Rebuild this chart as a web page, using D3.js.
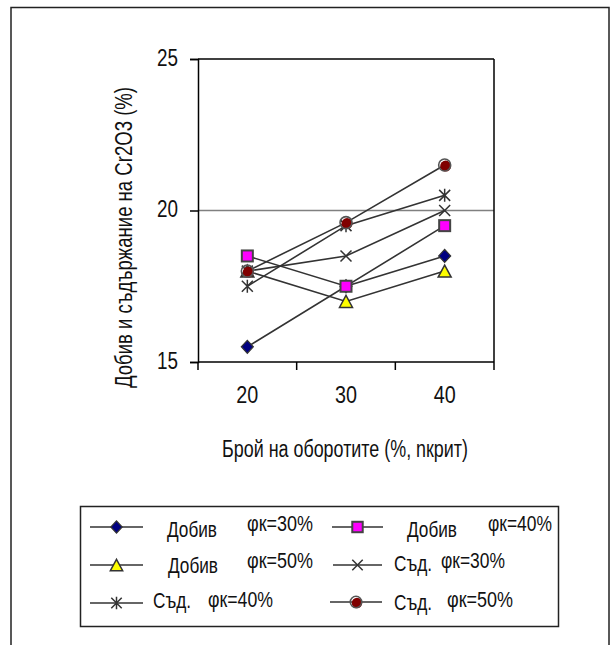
<!DOCTYPE html>
<html><head><meta charset="utf-8">
<script src="https://cdn.jsdelivr.net/npm/d3@7/dist/d3.min.js"></script>
<style>
body{margin:0;background:#fff}
text{font-family:"Liberation Sans",Arial,sans-serif;font-weight:400;fill:#111}
</style></head>
<body><svg id="c" width="613" height="645"></svg>
<script>
// ---------- data ----------
const categories = ["20", "30", "40"];
const yTickValues = [15, 20, 25];
const dobiv30 = [15.5, 17.5, 18.5];
const dobiv40 = [18.5, 17.5, 19.5];
const dobiv50 = [18.0, 17.0, 18.0];
const sad30   = [18.0, 18.5, 20.0];
const sad40   = [17.5, 19.5, 20.5];
const sad50   = [18.0, 19.6, 21.5];
const seriesNames = ["Добив", "Добив", "Добив", "Съд.", "Съд.", "Съд."];
const seriesPhi   = ["φк=30%", "φк=40%", "φк=50%", "φк=30%", "φк=40%", "φк=50%"];
const xTitle = "Брой на оборотите (%, nкрит)";
const yTitle = "Добив и съдържание на Cr2O3 (%)";

// ---------- styles / layout ----------
const seriesValues = [dobiv30, dobiv40, dobiv50, sad30, sad40, sad50];
const markerTypes = ["diamond", "square", "triangle", "x", "star", "circle"];
// legend slot per series: [lineX0, lineX1, lineY, nameX, nameBase, nameW, phiX, phiBase, phiW]
const legendSlots = [
  [90, 143, 527, 167, 537, 50, 247, 531, 66],
  [332, 383, 527, 407, 537, 50, 488, 531, 64],
  [90, 143, 565, 168, 573, 50, 247, 568, 66],
  [333, 382, 565, 394, 571, 38, 441, 568, 64],
  [90, 143, 603, 153, 608, 38, 208, 607, 65],
  [330, 382, 602, 394, 610, 38, 447, 607, 66]
];

const svg = d3.select("#c");
svg.append("rect").attr("width", 613).attr("height", 645).attr("fill", "#fff");
svg.append("rect").attr("x", 11).attr("y", 7.5).attr("width", 598).attr("height", 700)
  .attr("fill", "none").attr("stroke", "#222").attr("stroke-width", 1.5);

const P = {l: 198, r: 494, t: 59, b: 362};
const x = d3.scaleBand().domain(categories).range([P.l, P.r]).padding(0);
const y = d3.scaleLinear().domain([15, 25]).range([P.b, P.t]);
const cx = c => x(c) + x.bandwidth() / 2;

// gridline at 20
svg.append("g").selectAll("line").data(yTickValues.filter(v => v !== 15 && v !== 25)).join("line")
  .attr("x1", P.l).attr("x2", P.r).attr("y1", d => y(d)).attr("y2", d => y(d))
  .attr("stroke", "#808080").attr("stroke-width", 1.5);

svg.append("line").attr("x1", P.l).attr("x2", P.r).attr("y1", y(25)).attr("y2", y(25))
  .attr("stroke", "#000").attr("stroke-width", 1.5);
svg.append("line").attr("x1", P.r).attr("x2", P.r).attr("y1", P.t).attr("y2", P.b)
  .attr("stroke", "#000").attr("stroke-width", 1.5);

const gy = svg.append("g").attr("transform", `translate(${P.l},0)`)
  .call(d3.axisLeft(y).tickValues(yTickValues).tickSize(8).tickPadding(12).tickFormat(d3.format("d")));
gy.select(".domain").attr("stroke", "#000").attr("stroke-width", 1.5);
gy.selectAll(".tick line").attr("stroke", "#000").attr("stroke-width", 1.5);
gy.selectAll(".tick text").attr("font-size", 23).attr("dy", "0.28em")
  .attr("textLength", 21).attr("lengthAdjust", "spacingAndGlyphs")
  .attr("font-family", "Liberation Sans, Arial, sans-serif").attr("fill", "#111");

const gx = svg.append("g").attr("transform", `translate(0,${P.b})`)
  .call(d3.axisBottom(x).tickSize(0).tickPadding(29));
gx.select(".domain").remove();
gx.selectAll(".tick text").attr("font-size", 23).attr("dy", "0.5em")
  .attr("textLength", 22).attr("lengthAdjust", "spacingAndGlyphs")
  .attr("font-family", "Liberation Sans, Arial, sans-serif").attr("fill", "#111");
svg.append("line").attr("x1", P.l).attr("x2", P.r).attr("y1", P.b).attr("y2", P.b)
  .attr("stroke", "#000").attr("stroke-width", 1.5);
const edges = categories.map(c => x(c)).concat([x(categories[categories.length - 1]) + x.bandwidth()]);
svg.append("g").selectAll("line").data(edges).join("line")
  .attr("x1", d => d).attr("x2", d => d).attr("y1", P.b).attr("y2", P.b + 8)
  .attr("stroke", "#000").attr("stroke-width", 1.5);

svg.append("text").attr("x", 345).attr("y", 457).attr("text-anchor", "middle")
  .attr("font-size", 23).attr("textLength", 246).attr("lengthAdjust", "spacingAndGlyphs").text(xTitle);
svg.append("text").attr("transform", "translate(132,237.5) rotate(-90)").attr("text-anchor", "middle")
  .attr("font-size", 23).attr("textLength", 301).attr("lengthAdjust", "spacingAndGlyphs").text(yTitle);

function marker(g, type, px, py, s) {
  s = s || 1;
  const st = "#333";
  if (type === "diamond") {
    g.append("path").attr("d", `M${px},${py - 6.5 * s}L${px + 6 * s},${py}L${px},${py + 6.5 * s}L${px - 6 * s},${py}Z`)
      .attr("fill", "#000080").attr("stroke", st).attr("stroke-width", 1.2);
  } else if (type === "square") {
    g.append("rect").attr("x", px - 5.5 * s).attr("y", py - 5.5 * s).attr("width", 11 * s).attr("height", 11 * s)
      .attr("fill", "#ff00ff").attr("stroke", "#444").attr("stroke-width", 2);
  } else if (type === "triangle") {
    g.append("path").attr("d", `M${px},${py - 6 * s}L${px + 6.5 * s},${py + 6 * s}L${px - 6.5 * s},${py + 6 * s}Z`)
      .attr("fill", "#ffff00").attr("stroke", st).attr("stroke-width", 1.5);
  } else if (type === "x") {
    const a = 5.5 * s;
    g.append("path").attr("d", `M${px - a},${py - a}L${px + a},${py + a}M${px - a},${py + a}L${px + a},${py - a}`)
      .attr("stroke", st).attr("stroke-width", 1.5).attr("fill", "none");
  } else if (type === "star") {
    const a = 5.5 * s;
    g.append("path").attr("d", `M${px - a},${py - a}L${px + a},${py + a}M${px - a},${py + a}L${px + a},${py - a}M${px},${py - 6.5 * s}L${px},${py + 6.5 * s}`)
      .attr("stroke", st).attr("stroke-width", 1.5).attr("fill", "none");
  } else if (type === "circle") {
    g.append("circle").attr("cx", px + 1).attr("cy", py + 1).attr("r", 5.5 * s).attr("fill", "#800000");
    g.append("circle").attr("cx", px).attr("cy", py).attr("r", 6 * s).attr("fill", "none")
      .attr("stroke", "#555").attr("stroke-width", 1.6);
  }
}

const line = d3.line().x((d, i) => cx(categories[i])).y(d => y(d));
const plotG = svg.append("g");
seriesValues.forEach(vals => {
  plotG.append("path").attr("d", line(vals)).attr("fill", "none")
    .attr("stroke", "#333").attr("stroke-width", 1.6);
});
seriesValues.forEach((vals, si) => {
  vals.forEach((v, i) => marker(plotG, markerTypes[si], cx(categories[i]), y(v)));
});

svg.append("rect").attr("x", 80.5).attr("y", 506.5).attr("width", 478).attr("height", 120)
  .attr("fill", "#fff").attr("stroke", "#222").attr("stroke-width", 1.5);
const lg = svg.append("g");
seriesNames.forEach((nm, i) => {
  const s = legendSlots[i];
  lg.append("line").attr("x1", s[0]).attr("x2", s[1]).attr("y1", s[2]).attr("y2", s[2])
    .attr("stroke", "#333").attr("stroke-width", 1.6);
  marker(lg, markerTypes[i], (s[0] + s[1]) / 2, s[2], 0.95);
  lg.append("text").attr("x", s[3]).attr("y", s[4]).attr("font-size", 22)
    .attr("textLength", s[5]).attr("lengthAdjust", "spacingAndGlyphs").text(nm);
  lg.append("text").attr("x", s[6]).attr("y", s[7]).attr("font-size", 22)
    .attr("textLength", s[8]).attr("lengthAdjust", "spacingAndGlyphs").text(seriesPhi[i]);
});
</script></body></html>
